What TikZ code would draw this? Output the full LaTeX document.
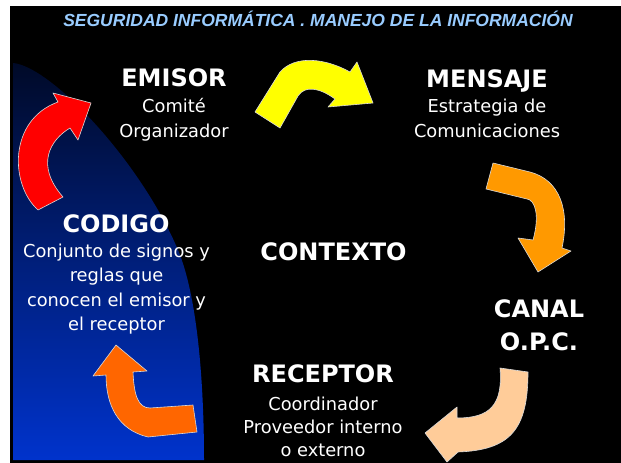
\documentclass[tikz,border=0pt]{standalone}
\usepackage{fontspec}
\setmainfont{DejaVu Sans}
\newfontfamily\titlefont{Liberation Sans}
\definecolor{titleblue}{HTML}{99CCFF}
\definecolor{arred}{HTML}{FF0000}
\definecolor{aryellow}{HTML}{FFFF00}
\definecolor{arorange}{HTML}{FF9900}
\definecolor{arpeach}{HTML}{FFCC99}
\definecolor{ardark}{HTML}{FF6600}
\definecolor{navytop}{RGB}{0,10,40}
\definecolor{bluebot}{RGB}{0,51,204}
\begin{document}
\begin{tikzpicture}[x=1pt,y=-1pt,
  hd/.style={text=white,font=\fontsize{24}{28}\selectfont\bfseries,anchor=base,inner sep=0pt},
  bd/.style={text=white,font=\fontsize{17.8}{22}\selectfont,anchor=base,inner sep=0pt},
  arr/.style={draw=white!85!black,line width=0.6pt,line join=round}]
\useasboundingbox (0,0) rectangle (621,463);
\fill[white] (0,0) rectangle (621,463);
\fill[black] (10,6) rectangle (621,463);
% blue gradient region
\path[top color=navytop,bottom color=bluebot]
  (13,63) .. controls (50,66) and (140,160) .. (178,250)
  .. controls (197,295) and (204,380) .. (204,460) -- (13,460) -- cycle;
% title
\node[anchor=base,inner sep=0pt,text=titleblue,font=\titlefont\fontsize{17.5}{20}\selectfont\bfseries\itshape] (title) at (318,26) {SEGURIDAD INFORMÁTICA . MANEJO DE LA INFORMACIÓN};
% arrows
\fill[arred,arr] (38,210) .. controls (10,185) and (8,120) .. (58,102) -- (53,93) -- (91,103) -- (78,140) -- (70,128)
  .. controls (50,140) and (35,165) .. (63,197) -- cycle;
\fill[aryellow,arr] (255,112) -- (280,72) .. controls (295,55) and (325,58) .. (350,72) -- (357,62) -- (373,103) -- (328,107) -- (335,99)
  .. controls (320,88) and (305,85) .. (298,96) -- (280,128) -- cycle;
\fill[arorange,arr] (493,163) -- (530,172) .. controls (560,180) and (570,210) .. (562,248) -- (571,251) -- (538,272) -- (518,238) -- (533,240)
  .. controls (540,215) and (535,200) .. (527,199) -- (486,189) -- cycle;
\fill[arpeach,arr] (500,368) -- (528,372) .. controls (528,430) and (510,450) .. (458,452) -- (447,462) -- (425,433) -- (457,407) -- (457,418)
  .. controls (490,418) and (503,405) .. (500,368) -- cycle;
\fill[ardark,arr] (116,345) -- (147,371) -- (133,372) .. controls (134,395) and (138,408) .. (150,408) -- (193,405) -- (197,432) -- (148,437)
  .. controls (118,430) and (106,405) .. (106,375) -- (93,376) -- cycle;
% texts
\node[hd] (emisor) at (174,86) {EMISOR};
\node[bd] (emisorA) at (174,112) {Comité};
\node[bd] (emisorB) at (174,137) {Organizador};
\node[hd] (mensaje) at (487,87) {MENSAJE};
\node[bd] (mensajeA) at (487,112) {Estrategia de};
\node[bd] (mensajeB) at (487,137) {Comunicaciones};
\node[hd] (codigo) at (116,232) {CODIGO};
\node[bd] (codigoA) at (116.5,257) {Conjunto de signos y};
\node[bd] (codigoB) at (116.5,281.5) {reglas que};
\node[bd] (codigoC) at (116.5,306) {conocen el emisor y};
\node[bd] (codigoD) at (116.5,330.5) {el receptor};
\node[hd] (contexto) at (333.5,260) {CONTEXTO};
\node[hd] (canal) at (539,317) {CANAL};
\node[hd] (opc) at (539,350) {O.P.C.};
\node[hd] (receptor) at (323,382) {RECEPTOR};
\node[bd] (receptorA) at (323,410) {Coordinador};
\node[bd] (receptorB) at (323,433) {Proveedor interno};
\node[bd] (receptorC) at (323,456) {o externo};
\end{tikzpicture}
\end{document}
